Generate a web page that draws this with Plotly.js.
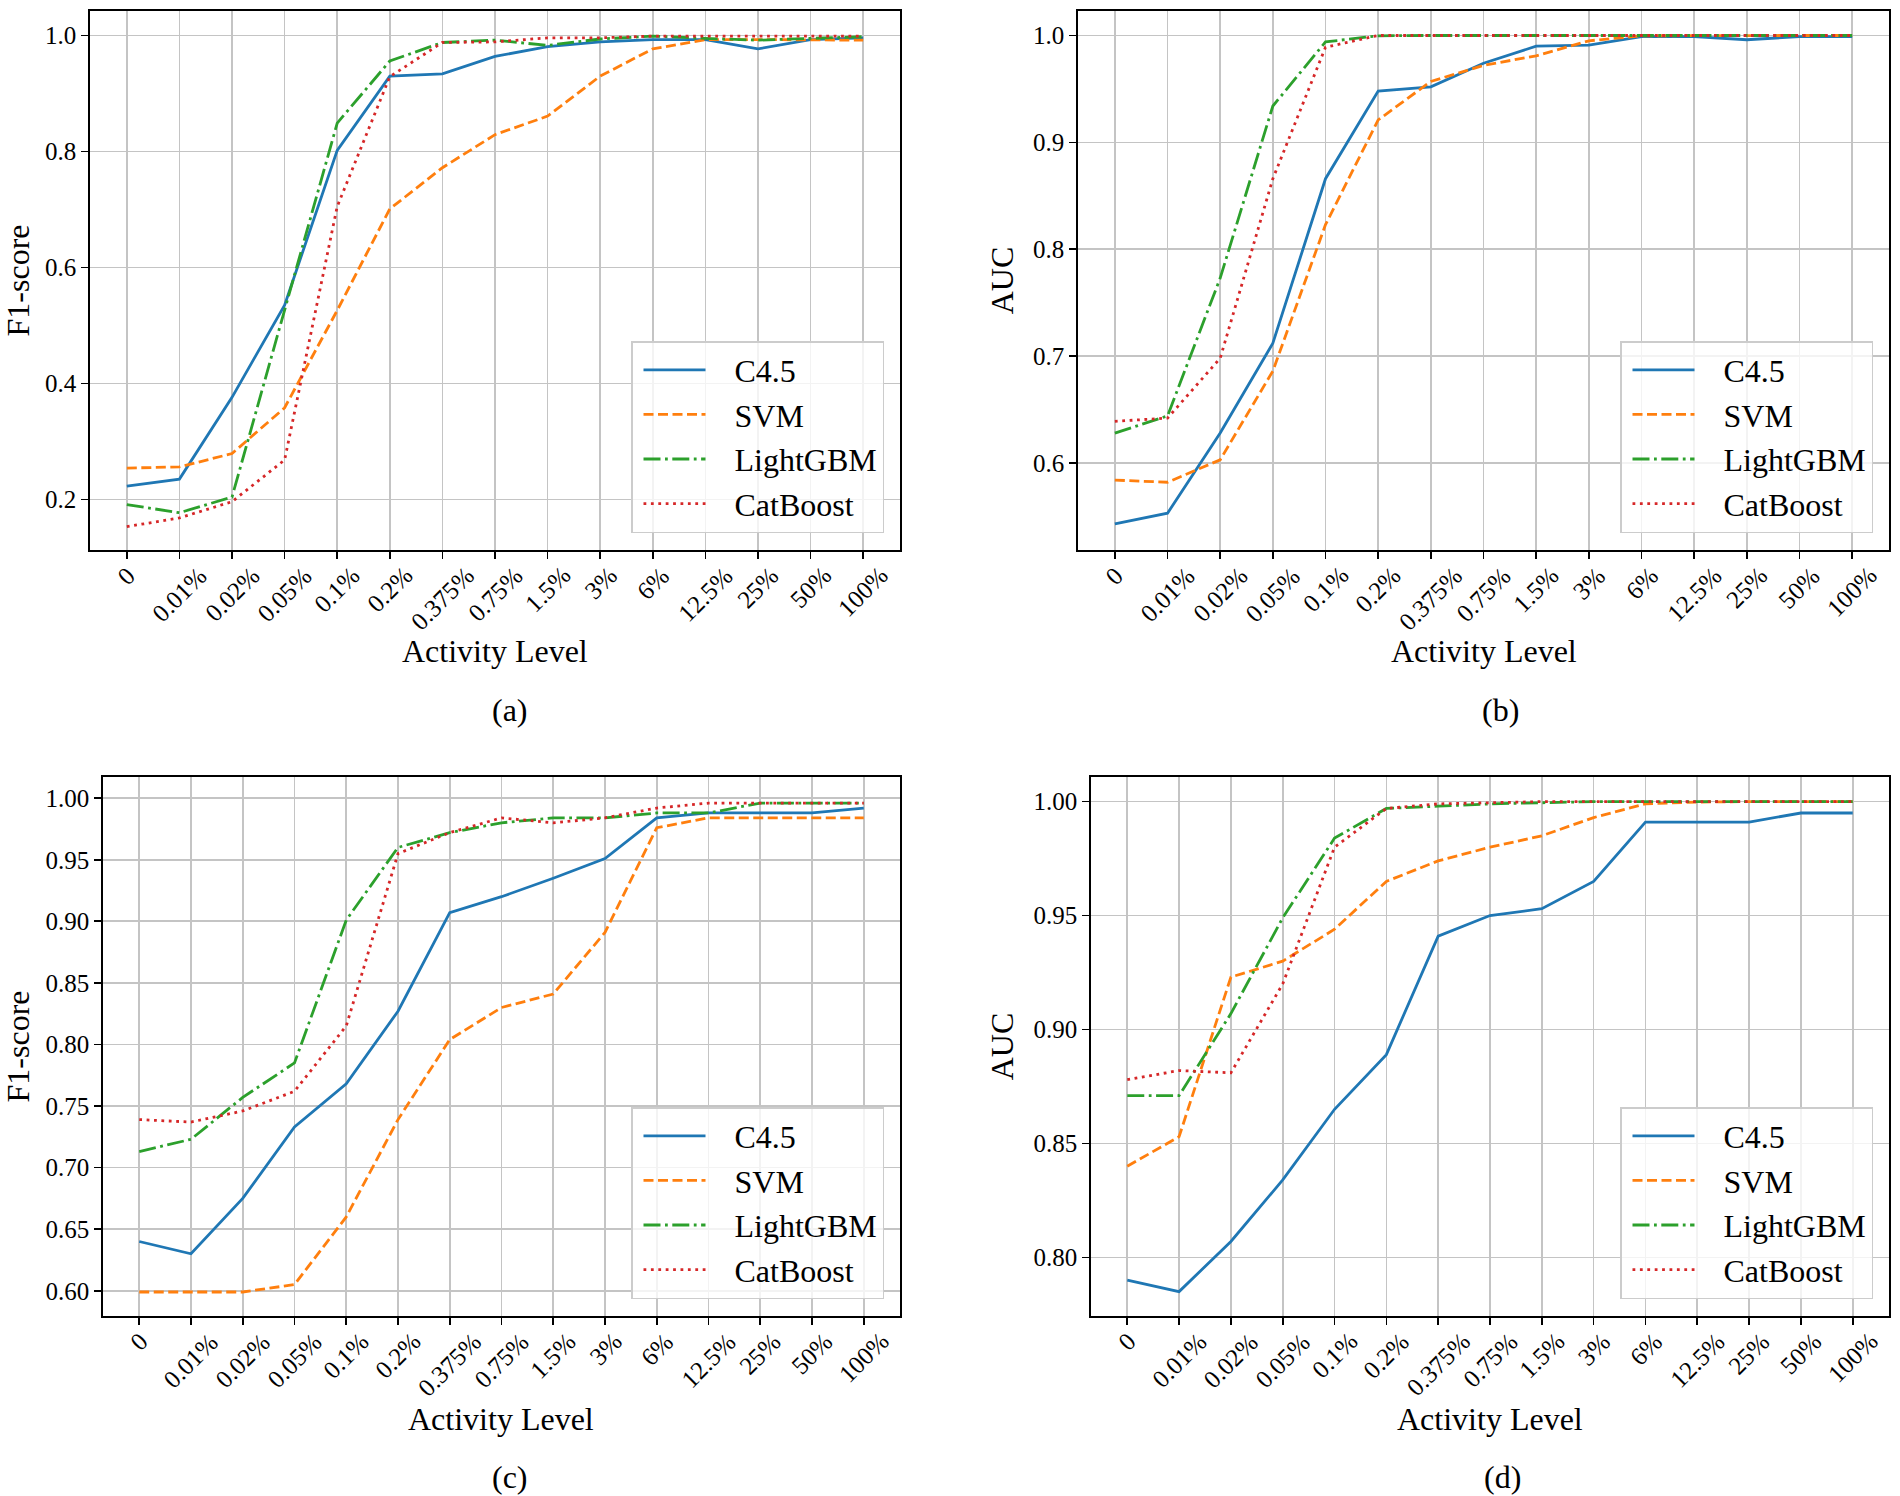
<!DOCTYPE html>
<html>
<head>
<meta charset="utf-8">
<script src="https://cdn.plot.ly/plotly-3.0.1.min.js"></script>
<style>html,body{margin:0;padding:0;background:#fff;}#chart{width:1900px;height:1496px;}</style>
</head>
<body>
<div id="chart"></div>
<script>
// ---- data ----
const categories = ['0','0.01%','0.02%','0.05%','0.1%','0.2%','0.375%','0.75%','1.5%','3%','6%','12.5%','25%','50%','100%'];
const seriesNames = ['C4.5','SVM','LightGBM','CatBoost'];

// (a) F1-score
const a_C45      = [0.223,0.235,0.376,0.535,0.802,0.930,0.934,0.964,0.981,0.989,0.993,0.993,0.977,0.993,0.996];
const a_SVM      = [0.254,0.256,0.279,0.358,0.526,0.701,0.772,0.829,0.861,0.930,0.977,0.993,0.993,0.992,0.992];
const a_LightGBM = [0.191,0.177,0.204,0.525,0.849,0.956,0.988,0.992,0.983,0.994,0.999,0.995,0.992,0.995,0.998];
const a_CatBoost = [0.153,0.168,0.196,0.268,0.705,0.929,0.988,0.989,0.996,0.996,0.999,0.999,0.999,0.999,0.999];

// (b) AUC
const b_C45      = [0.543,0.553,0.628,0.712,0.866,0.948,0.952,0.974,0.990,0.991,0.999,0.999,0.996,0.999,0.999];
const b_SVM      = [0.584,0.582,0.603,0.686,0.823,0.921,0.957,0.972,0.981,0.995,0.9997,1.0,1.0,1.0,1.0];
const b_LightGBM = [0.628,0.644,0.773,0.934,0.994,0.9997,1.0,1.0,1.0,1.0,1.0,1.0,1.0,1.0,1.0];
const b_CatBoost = [0.639,0.642,0.698,0.866,0.989,1.0,1.0,1.0,1.0,1.0,1.0,1.0,1.0,1.0,1.0];

// (c) F1-score
const c_C45      = [0.640,0.630,0.675,0.733,0.768,0.827,0.907,0.920,0.935,0.951,0.984,0.988,0.988,0.988,0.992];
const c_SVM      = [0.599,0.599,0.599,0.605,0.660,0.739,0.804,0.830,0.841,0.891,0.976,0.984,0.984,0.984,0.984];
const c_LightGBM = [0.713,0.723,0.757,0.785,0.901,0.960,0.972,0.980,0.984,0.984,0.988,0.988,0.996,0.996,0.996];
const c_CatBoost = [0.739,0.737,0.746,0.762,0.815,0.955,0.972,0.984,0.980,0.984,0.992,0.996,0.996,0.996,0.996];

// (d) AUC
const d_C45      = [0.790,0.785,0.807,0.834,0.865,0.889,0.941,0.950,0.953,0.965,0.991,0.991,0.991,0.995,0.995];
const d_SVM      = [0.840,0.853,0.923,0.930,0.944,0.965,0.974,0.980,0.985,0.993,0.999,0.9998,1.0,1.0,1.0];
const d_LightGBM = [0.871,0.871,0.907,0.949,0.984,0.997,0.998,0.999,0.9995,1.0,1.0,1.0,1.0,1.0,1.0];
const d_CatBoost = [0.878,0.882,0.881,0.920,0.980,0.997,0.999,0.9995,1.0,1.0,1.0,1.0,1.0,1.0,1.0];

const yTitles = ['F1-score','AUC','F1-score','AUC'];
const xTitle = 'Activity Level';
const captions = ['(a)','(b)','(c)','(d)'];

// ---- styles ----
const FONT = "'Liberation Serif', 'Times New Roman', serif";
const colors = ['#1f77b4','#ff7f0e','#2ca02c','#d62728'];
const LW = 2.8;
const dashes = ['solid', '10px,4.5px', '17px,4.5px,2.8px,4.5px', '2.8px,4.6px'];
const PAD = '\u00a0\u00a0\u00a0';

const W = 1900, H = 1496;
// plot boxes in pixels [left, right, top, bottom]
const boxes = [
  [90, 900, 11, 550],
  [1078, 1889, 11, 550],
  [103, 900, 777, 1316],
  [1091, 1889, 777, 1316]
];
const yRanges = [[0.1127,1.0423],[0.5186,1.0229],[0.5795,1.0172],[0.7743,1.0108]];
const yDtick = [0.2, 0.1, 0.05, 0.05];
const yTick0 = [0.2, 0.6, 0.6, 0.8];
const yFormat = ['.1f','.1f','.2f','.2f'];
const captionX = [510, 1500, 510, 1502];
const captionY = [710, 710, 1477, 1477];
const xTitleY = [651, 651, 1419, 1419];

const panelData = [
  [a_C45,a_SVM,a_LightGBM,a_CatBoost],
  [b_C45,b_SVM,b_LightGBM,b_CatBoost],
  [c_C45,c_SVM,c_LightGBM,c_CatBoost],
  [d_C45,d_SVM,d_LightGBM,d_CatBoost]
];

const traces = [];
const layout = {
  width: W, height: H,
  margin: {l:0, r:0, t:0, b:0},
  paper_bgcolor: '#ffffff',
  plot_bgcolor: '#ffffff',
  font: {family: FONT, color: '#000', size: 25},
  showlegend: true,
  annotations: []
};

panelData.forEach((series, p) => {
  const n = p + 1;
  const xa = n === 1 ? 'x' : 'x' + n;
  const ya = n === 1 ? 'y' : 'y' + n;
  const lg = n === 1 ? 'legend' : 'legend' + n;
  series.forEach((vals, s) => {
    traces.push({
      type: 'scatter', mode: 'lines',
      x: categories, y: vals,
      name: PAD + seriesNames[s],
      xaxis: xa, yaxis: ya, legend: lg,
      legendgroup: 'g' + p + '_' + s,
      line: {color: colors[s], width: LW, dash: dashes[s]},
      hoverinfo: 'x+y'
    });
  });
  const [l, r, t, b] = boxes[p];
  const xKey = n === 1 ? 'xaxis' : 'xaxis' + n;
  const yKey = n === 1 ? 'yaxis' : 'yaxis' + n;
  layout[xKey] = {
    domain: [l / W, r / W], anchor: ya,
    type: 'category', range: [-0.7, 14.7],
    showticklabels: false,
    ticks: 'outside', ticklen: 7, tickwidth: 1.7, tickcolor: '#000',
    showgrid: true, gridcolor: '#c4c4c4', gridwidth: 1.7,
    showline: true, mirror: true, linecolor: '#000', linewidth: 1.7,
    zeroline: false, fixedrange: true
  };
  layout[yKey] = {
    domain: [1 - b / H, 1 - t / H], anchor: xa,
    range: yRanges[p], tick0: yTick0[p], dtick: yDtick[p], tickformat: yFormat[p],
    ticks: 'outside', ticklen: 7, tickwidth: 1.7, tickcolor: '#000',
    tickfont: {family: FONT, size: 25, color: '#000'},
    showgrid: true, gridcolor: '#c4c4c4', gridwidth: 1.7,
    showline: true, mirror: true, linecolor: '#000', linewidth: 1.7,
    zeroline: false, fixedrange: true,
    title: {text: yTitles[p], font: {family: FONT, size: 32, color: '#000'}, standoff: 10}
  };
  layout[lg] = {
    x: (r - 16) / W, y: 1 - (b - 17) / H, xanchor: 'right', yanchor: 'bottom',
    bgcolor: 'rgba(255,255,255,0.8)', bordercolor: '#cccccc', borderwidth: 1.5,
    font: {family: FONT, size: 32, color: '#000'},
    itemwidth: 62, tracegroupgap: 4, traceorder: 'normal', indentation: 6
  };
  // rotated category labels, centred under each tick
  categories.forEach((c, i) => {
    layout.annotations.push({
      xref: xa, yref: ya + ' domain', x: i, y: 0,
      xanchor: 'center', yanchor: 'top', yshift: -9,
      text: c, textangle: -45, showarrow: false,
      font: {family: FONT, size: 25, color: '#000'}
    });
  });
  // x-axis title
  layout.annotations.push({
    xref: xa + ' domain', yref: 'paper', x: 0.5, y: 1 - xTitleY[p] / H,
    xanchor: 'center', yanchor: 'middle', text: xTitle, showarrow: false,
    font: {family: FONT, size: 32, color: '#000'}
  });
  // caption
  layout.annotations.push({
    xref: 'paper', yref: 'paper', x: captionX[p] / W, y: 1 - captionY[p] / H,
    xanchor: 'center', yanchor: 'middle', text: captions[p], showarrow: false,
    font: {family: FONT, size: 32, color: '#000'}
  });
});

Plotly.newPlot('chart', traces, layout, {displayModeBar: false, staticPlot: true});
</script>
</body>
</html>
